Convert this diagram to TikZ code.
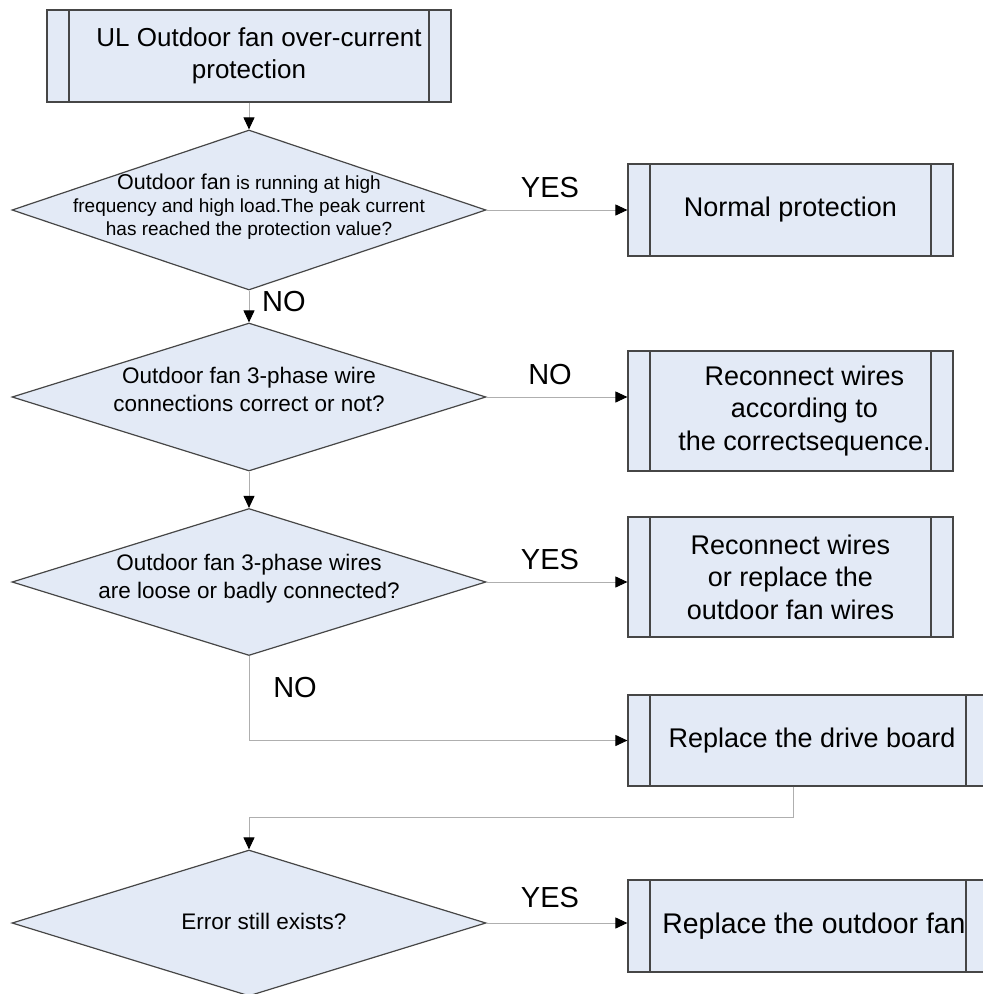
\documentclass[tikz,border=0pt]{standalone}
\usepackage{fontspec}
\setmainfont{Liberation Sans}
\usepackage{tikz}
\usepackage{xcolor}
\definecolor{flowfill}{RGB}{227, 234, 246}
\definecolor{flowedge}{RGB}{70, 70, 70}
\definecolor{flowline}{RGB}{175, 175, 175}
\usetikzlibrary{shapes.geometric,calc,positioning,arrows.meta}

\begin{document}
\begin{tikzpicture}[x=1pt, y=-1pt,
    procbox/.style={draw=flowedge, fill=flowfill, line width=1.2pt, rectangle, align=center, inner sep=0pt,
        font=\fontsize{27}{32.5}\selectfont,
        path picture={
            \draw[flowedge, line width=1.2pt] ([xshift=22pt]path picture bounding box.north west) -- ([xshift=22pt]path picture bounding box.south west);
            \draw[flowedge, line width=1.2pt] ([xshift=-22pt]path picture bounding box.north east) -- ([xshift=-22pt]path picture bounding box.south east);
        }},
    decision/.style={draw=flowedge, fill=flowfill, line width=1.2pt, diamond, inner sep=0pt},
    question/.style={align=center, inner sep=0pt, font=\fontsize{22.5}{28}\selectfont},
    answer/.style={inner sep=0pt, font=\fontsize{29}{29}\selectfont},
    flow/.style={draw=flowline, line width=1pt, -{Triangle[length=12pt, width=11pt, black]}}
]
    \useasboundingbox (0,0) rectangle (983,994);
    \clip (0,0) rectangle (983,994);

    % Start
    \node[procbox, minimum width=404pt, minimum height=92pt, font=\fontsize{26}{32}\selectfont] (start) at (249,56)
        {\hspace*{20pt}UL Outdoor fan over-current\\protection};

    % Decisions
    \node[decision, minimum width=474pt, minimum height=160pt] (q1) at (249,210) {};
    \node[question, font=\fontsize{19}{23}\selectfont] (q1txt) at (249,207)
        {{\fontsize{21.5}{23}\selectfont Outdoor fan} is running at high\\frequency and high load.The peak current\\has reached the protection value?};

    \node[decision, minimum width=474pt, minimum height=148pt] (q2) at (249,397) {};
    \node[question] (q2txt) at (249,389) {Outdoor fan 3-phase wire\\connections correct or not?};

    \node[decision, minimum width=474pt, minimum height=147pt] (q3) at (249,582) {};
    \node[question] (q3txt) at (249,579) {Outdoor fan 3-phase wires\\are loose or badly connected?};

    \node[decision, minimum width=474pt, minimum height=146pt] (q4) at (249,923) {};
    \node[question] (q4txt) at (264,921) {Error still exists?};

    % Actions
    \node[procbox, minimum width=325pt, minimum height=92pt] (normal) at (790.5,210) {Normal protection};
    \node[procbox, minimum width=325pt, minimum height=120pt] (rewire) at (790.5,411)
        {\hspace*{28pt}Reconnect wires\\\hspace*{28pt}according to\\\hspace*{28pt}the correctsequence.};
    \node[procbox, minimum width=325pt, minimum height=120pt] (fix) at (790.5,577)
        {Reconnect wires\\or replace the\\outdoor fan wires};
    \node[procbox, minimum width=360pt, minimum height=91pt] (board) at (808,740.5) {\hspace*{8pt}Replace the drive board};
    \node[procbox, minimum width=360pt, minimum height=92pt, font=\fontsize{28.4}{32}\selectfont] (fan) at (808,926)
        {\hspace*{12pt}Replace the outdoor fan};

    % Connectors
    \draw[flow] (start.south) -- (q1.north);
    \draw[flow] (q1.east) -- (q1.east -| normal.west);
    \draw[flow] (q1.south) -- (q2.north);
    \draw[flow] (q2.east) -- (q2.east -| rewire.west);
    \draw[flow] (q2.south) -- (q3.north);
    \draw[flow] (q3.east) -- (q3.east -| fix.west);
    \draw[flow] (q3.south) |- (board.west);
    \draw[flow] ([xshift=-15pt]board.south) -- ++(0,31) -| (q4.north);
    \draw[flow] (q4.east) -- (q4.east -| fan.west);

    % Answers
    \node[answer] (yes1) at (550,188) {YES};
    \node[answer, anchor=west] (no1) at (262,302) {NO};
    \node[answer] (no2) at (550,375) {NO};
    \node[answer] (yes2) at (550,560) {YES};
    \node[answer] (no3) at (295,688) {NO};
    \node[answer] (yes3) at (550,898) {YES};
\end{tikzpicture}
\end{document}
